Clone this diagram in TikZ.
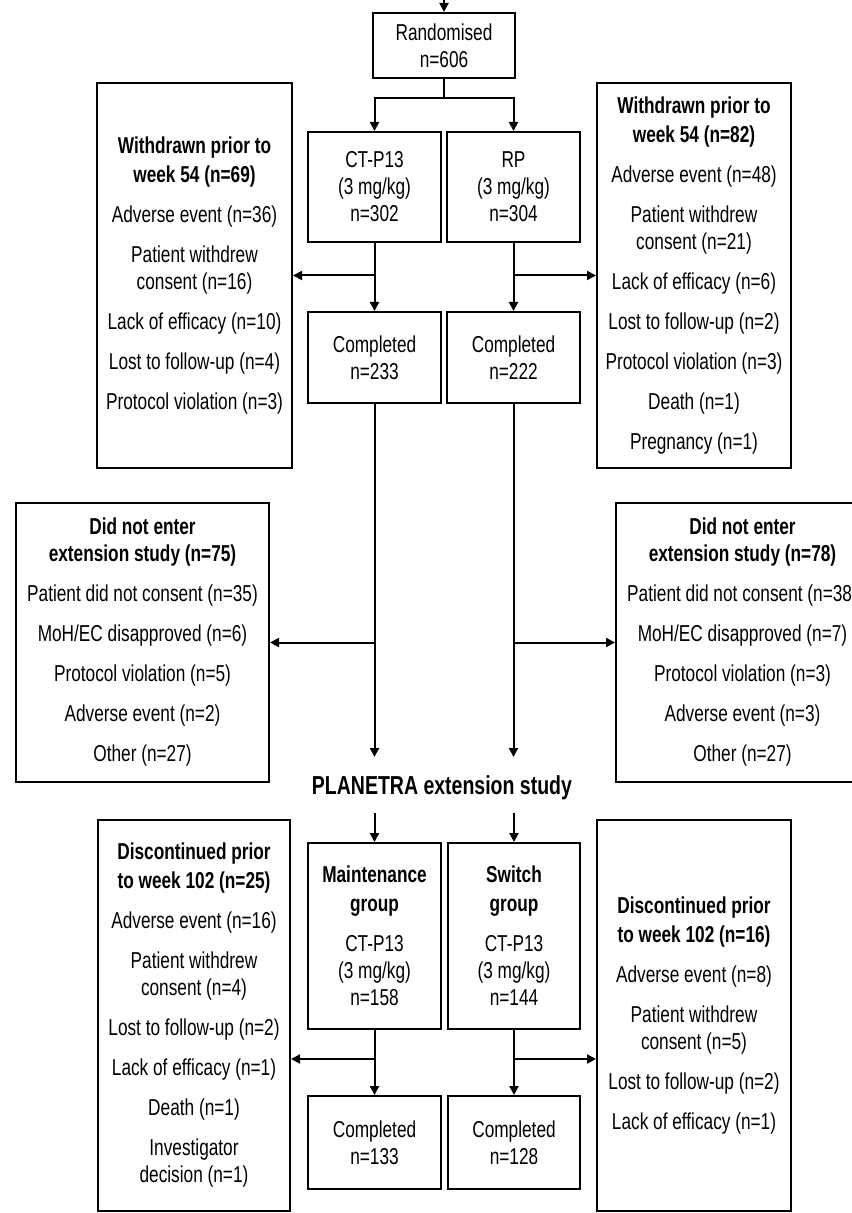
\documentclass[tikz,border=0pt]{standalone}
\usepackage{fontspec}
\setmainfont{Liberation Sans}[FakeStretch=0.75]
\usepackage{tikz}
\usetikzlibrary{arrows.meta}

\newcommand{\hd}[1]{\textbf{#1}}

\begin{document}
\begin{tikzpicture}[x=0.5pt, y=-0.5pt, line width=1pt, >={Triangle[length=4.5pt,width=4.5pt]},
  box/.style={draw, line width=1pt, align=center, inner sep=2pt, font=\fontsize{11.5}{13.5}\selectfont},
  title/.style={font=\fontsize{13}{15}\selectfont\bfseries}]
\useasboundingbox (0,0) rectangle (851,1213);

\node[box, minimum width=71pt, minimum height=32.5pt] (rand) at (444,45.5) {Randomised\\n=606};
\node[box, minimum width=66.5pt, minimum height=55pt] (ctp) at (374.5,187) {CT-P13\\(3 mg/kg)\\n=302};
\node[box, minimum width=66.5pt, minimum height=55pt] (rp) at (513.5,187) {RP\\(3 mg/kg)\\n=304};
\node[box, minimum width=66.5pt, minimum height=45.5pt] (ctcomp) at (374.5,357.5) {Completed\\n=233};
\node[box, minimum width=66.5pt, minimum height=45.5pt] (rpcomp) at (513.5,357.5) {Completed\\n=222};

\node[box, minimum width=97.5pt, minimum height=192.5pt] (wdl) at (194.5,275.5) {\hd{Withdrawn prior to}\\[1pt]\hd{week 54 (n=69)}\\[6.5pt]Adverse event (n=36)\\[6.5pt]Patient withdrew\\consent (n=16)\\[6.5pt]Lack of efficacy (n=10)\\[6.5pt]Lost to follow-up (n=4)\\[6.5pt]Protocol violation (n=3)};
\node[box, minimum width=97pt, minimum height=192.5pt] (wdr) at (694,275.5) {\hd{Withdrawn prior to}\\[1pt]\hd{week 54 (n=82)}\\[6.5pt]Adverse event (n=48)\\[6.5pt]Patient withdrew\\consent (n=21)\\[6.5pt]Lack of efficacy (n=6)\\[6.5pt]Lost to follow-up (n=2)\\[6.5pt]Protocol violation (n=3)\\[6.5pt]Death (n=1)\\[6.5pt]Pregnancy (n=1)};

\node[box, minimum width=126.5pt, minimum height=139.5pt] (dnl) at (142.5,642.5) {\hd{Did not enter}\\\hd{extension study (n=75)}\\[6.5pt]Patient did not consent (n=35)\\[6.5pt]MoH/EC disapproved (n=6)\\[6.5pt]Protocol violation (n=5)\\[6.5pt]Adverse event (n=2)\\[6.5pt]Other (n=27)};
\node[box, minimum width=126.5pt, minimum height=139.5pt] (dnr) at (742.5,642.5) {\hd{Did not enter}\\\hd{extension study (n=78)}\\[6.5pt]Patient did not consent (n=38)\\[6.5pt]MoH/EC disapproved (n=7)\\[6.5pt]Protocol violation (n=3)\\[6.5pt]Adverse event (n=3)\\[6.5pt]Other (n=27)};

\node[title] (planetra) at (442,788) {PLANETRA extension study};

\node[box, minimum width=66.5pt, minimum height=93pt] (maint) at (374.5,936) {\hd{Maintenance}\\[1pt]\hd{group}\\[6.5pt]CT-P13\\(3 mg/kg)\\n=158};
\node[box, minimum width=66pt, minimum height=93pt] (switch) at (514,936) {\hd{Switch}\\[1pt]\hd{group}\\[6.5pt]CT-P13\\(3 mg/kg)\\n=144};
\node[box, minimum width=66.5pt, minimum height=46.5pt] (mcomp) at (374.5,1142.5) {Completed\\n=133};
\node[box, minimum width=66pt, minimum height=46.5pt] (scomp) at (514,1142.5) {Completed\\n=128};

\node[box, minimum width=96pt, minimum height=195.5pt] (dcl) at (194,1015.5) {\hd{Discontinued prior}\\[1pt]\hd{to week 102 (n=25)}\\[6.5pt]Adverse event (n=16)\\[6.5pt]Patient withdrew\\consent (n=4)\\[6.5pt]Lost to follow-up (n=2)\\[6.5pt]Lack of efficacy (n=1)\\[6.5pt]Death (n=1)\\[6.5pt]Investigator\\decision (n=1)};
\node[box, minimum width=97pt, minimum height=195.5pt] (dcr) at (694,1015.5) {\hd{Discontinued prior}\\[1pt]\hd{to week 102 (n=16)}\\[6.5pt]Adverse event (n=8)\\[6.5pt]Patient withdrew\\consent (n=5)\\[6.5pt]Lost to follow-up (n=2)\\[6.5pt]Lack of efficacy (n=1)};

\coordinate (entry) at (444,0);
\coordinate (split) at (444,98);
\coordinate (ctend) at (374.5,757);
\coordinate (rpend) at (513.5,757);
\coordinate (mstart) at (374.5,813);
\coordinate (sstart) at (514,813);
\coordinate (mbranch) at (374.5,1059);
\coordinate (sbranch) at (514,1059);

\draw[->] (entry) -- (rand);
\draw (rand) -- (split);
\draw[->] (split) -| (ctp);
\draw[->] (split) -| (rp);
\draw[->] (ctp) -- (ctcomp);
\draw[->] (rp) -- (rpcomp);
\draw[->] (ctp.south |- wdl) -- (wdl);
\draw[->] (rp.south |- wdr) -- (wdr);

\draw[->] (ctcomp) -- (ctend);
\draw[->] (rpcomp) -- (rpend);
\draw[->] (ctcomp.south |- dnl) -- (dnl);
\draw[->] (rpcomp.south |- dnr) -- (dnr);

\draw[->] (mstart) -- (maint);
\draw[->] (sstart) -- (switch);
\draw[->] (maint) -- (mcomp);
\draw[->] (switch) -- (scomp);
\draw[->] (mbranch) -- (mbranch -| dcl.east);
\draw[->] (sbranch) -- (sbranch -| dcr.west);
\end{tikzpicture}
\end{document}
